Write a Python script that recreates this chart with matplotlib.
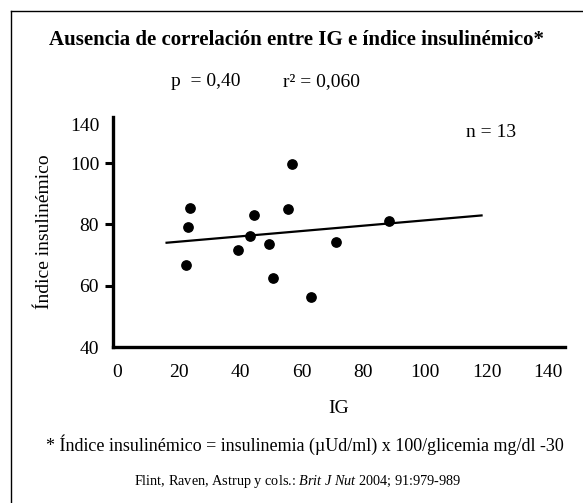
import numpy as np
import matplotlib.pyplot as plt
from matplotlib.lines import Line2D

plt.rcParams['font.family'] = ['Liberation Serif', 'DejaVu Serif']
plt.rcParams['mathtext.fontset'] = 'custom'
plt.rcParams['mathtext.rm'] = 'Liberation Serif'
plt.rcParams['mathtext.it'] = 'Liberation Serif:italic'

# IG vs insulin index
ig = [23.7, 23.1, 22.3, 39.4, 43.2, 44.6, 56.7, 55.6, 49.4, 50.8, 63.0, 71.2, 88.5]
insulin_idx = [85.4, 79.2, 66.8, 71.7, 76.2, 82.9, 99.7, 85.0, 73.6, 62.5, 56.4, 74.2, 81.0]

# regression line end points
fit_x = [16.1, 118.4]
fit_y = [74.0, 82.9]

y_ticks = [40, 60, 80, 100, 112.4]
y_tick_labels = ['40', '60', '80', '100', '140']
x_ticks = [0, 20, 40, 60, 80, 100, 120, 140]

fig = plt.figure(figsize=(5.83, 5.03), dpi=100)
ax = fig.add_axes([113/583, 1 - 347/503, (565 - 113)/583, (347 - 117)/503])

ax.scatter(ig, insulin_idx, s=45, color='black', zorder=3)
ax.plot(fit_x, fit_y, color='black', lw=1.6)

ax.set_xlim(-1.3, 145.5)
ax.set_ylim(40, 115)
ax.set_xticks(x_ticks)
ax.set_yticks(y_ticks)
ax.set_yticklabels(y_tick_labels)
ax.tick_params(axis='x', length=0, labelsize=14, pad=12)
ax.tick_params(axis='y', length=6, width=2.2, labelsize=14, pad=4)
ticks = ax.yaxis.get_major_ticks()
ticks[0].tick1line.set_visible(False)
ticks[-1].tick1line.set_visible(False)

for s in ['top', 'right']:
    ax.spines[s].set_visible(False)
for s in ['left', 'bottom']:
    ax.spines[s].set_linewidth(2.4)

ax.set_xlabel('IG', fontsize=14, labelpad=14)
ax.set_ylabel('Índice insulinémico', fontsize=14, labelpad=12)

fig.text(0.508, 1 - 40/503, 'Ausencia de correlación entre IG e índice insulinémico*',
         ha='center', va='center', fontsize=15, fontweight='bold')
fig.text(206/583, 1 - 82/503, 'p  = 0,40', ha='center', va='center', fontsize=14)
fig.text(321/583, 1 - 82/503, 'r² = 0,060', ha='center', va='center', fontsize=14)
fig.text(491/583, 1 - 133/503, 'n = 13', ha='center', va='center', fontsize=14)

fig.text(305/583, 1 - 445/503,
         '* Índice insulinémico = insulinemia (µUd/ml) x 100/glicemia mg/dl -30',
         ha='center', va='center', fontsize=13)
fig.text(298/583, 1 - 482/503,
         'Flint, Raven, Astrup y cols.: $\\mathit{Brit\\ J\\ Nut}$ 2004; 91:979-989',
         ha='center', va='center', fontsize=10.3)

# frame (only top and left edges are in the crop)
fig.add_artist(Line2D([11/583, 1], [1 - 11/503, 1 - 11/503], color='black', lw=1))
fig.add_artist(Line2D([11/583, 11/583], [0, 1 - 11/503], color='black', lw=1))

fig.savefig('out.png', dpi=100)
